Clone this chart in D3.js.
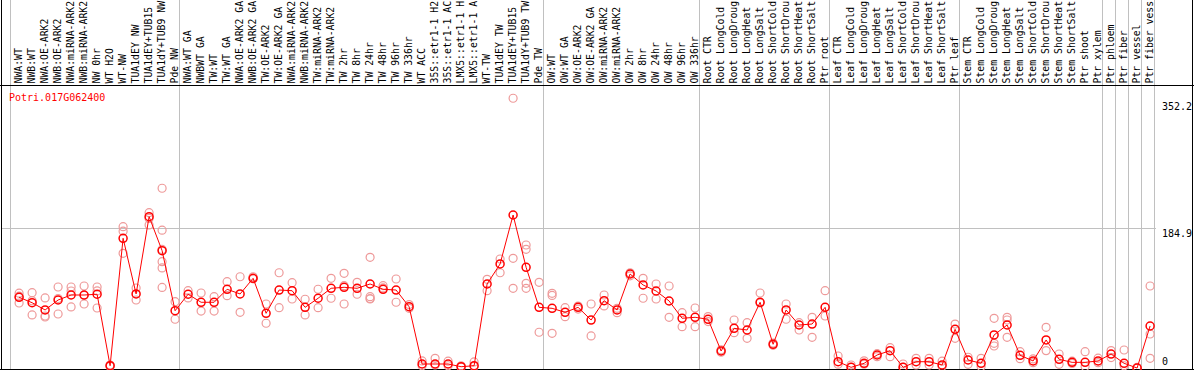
<!DOCTYPE html>
<html>
<head>
<meta charset="utf-8">
<script src="https://cdn.jsdelivr.net/npm/d3@7"></script>
<style>
  body { margin: 0; background: #fff; }
  svg { display: block; }
  text { font-family: "DejaVu Sans Mono", monospace; font-size: 10px; }
</style>
</head>
<body>
<svg id="svg"></svg>
<script>
var svg = d3.select("#svg"),
    width = 1194,
    height = 370;
svg.attr("width", width).attr("height", height);

var gene = "Potri.017G062400";

// labels as they show in the header (long ones are cut at the top edge)
var labels = [
  "NWA:WT", "NWB:WT", "NWA:OE-ARK2", "NWB:OE-ARK2", "NWA:miRNA-ARK2", "NWB:miRNA-ARK2", "NW 0hr", "WT H2O", "WT-NW",
  "TUA1dEY NW", "TUA1dEY+TUB15", "TUA1dY+TUB9 NW", "Pde NW",
  "NWA:WT GA", "NWBWT GA", "TW:WT", "TW:WT GA", "NWA:OE-ARK2 GA", "NWB:OE-ARK2 GA", "TW:OE-ARK2", "TW:OE-ARK2 GA",
  "NWA:miRNA-ARK2", "NWB:miRNA-ARK2", "TW:miRNA-ARK2", "TW:miRNA-ARK2", "TW 2hr", "TW 8hr", "TW 24hr", "TW 48hr",
  "TW 96hr", "TW 336hr", "WT ACC", "35S::etr1-1 H2", "35S::etr1-1 AC", "LMX5::etr1-1 H", "LMX5::etr1-1 A",
  "WT-TW", "TUA1dEY TW", "TUA1dEY+TUB15", "TUA1dY+TUB9 TW", "Pde TW",
  "OW:WT", "OW:WT GA", "OW:OE-ARK2", "OW:OE-ARK2 GA", "OW:miRNA-ARK2", "OW:miRNA-ARK2", "OW 2hr", "OW 8hr",
  "OW 24hr", "OW 48hr", "OW 96hr", "OW 336hr",
  "Root CTR", "Root LongCold", "Root LongDroug", "Root LongHeat", "Root LongSalt", "Root ShortCold",
  "Root ShortDrou", "Root ShortHeat", "Root ShortSalt", "Ptr root",
  "Leaf CTR", "Leaf LongCold", "Leaf LongDroug", "Leaf LongHeat", "Leaf LongSalt", "Leaf ShortCold",
  "Leaf ShortDrou", "Leaf ShortHeat", "Leaf ShortSalt", "Ptr leaf",
  "Stem CTR", "Stem LongCold", "Stem LongDroug", "Stem LongHeat", "Stem LongSalt", "Stem ShortCold",
  "Stem ShortDrou", "Stem ShortHeat", "Stem ShortSalt", "Ptr shoot", "Ptr xylem",
  "Ptr phloem", "Ptr fiber", "Ptr vessel", "Ptr fiber vess"
];

// column index where each group starts (plus the end)
var groupBreaks = [0, 13, 41, 53, 63, 73, 84, 85, 86, 87, 88];

var means = [
  93.6, 86.4, 76.8, 90, 96.6, 96.6, 97.6, 3, 171.7, 98, 200.3, 155.3, 75.8,
  97.6, 87, 87, 104.2, 98, 118.7, 72.4, 103.2, 102.3, 80.3, 92.3, 105.5, 106.8, 105.5, 111.2, 104.2,
  103.2, 81.1, 5.3, 5.3, 5.3, 1.7, 3, 111.2, 137.7, 202.5, 133.3, 80.3,
  79, 73.7, 80.3, 63.5, 89.1, 76.8, 124.4, 109.9, 101.9, 88.7, 65.8, 67.1,
  64.5, 22.5, 52.5, 50.3, 87, 31.4, 76.8, 56.9, 58.2, 80.3,
  8.3, 0.9, 6.2, 17.2, 22.9, 0.9, 8.3, 8.3, 4, 51.2,
  10.6, 6.2, 43.7, 56.9, 16.8, 9.3, 37.1, 11.5, 7.5, 7.5, 9.3,
  18.5, 6.2, 0, 55.6
];

var reps = [
  [99, 86, 95], [99.7, 70.2, 89], [92.7, 68.8, 67.5], [107.2, 71.5, 92], [107.2, 101.9, 80.8],
  [108.5, 84.7, 96], [107.2, 79.4, 102], [2, 4, 3], [187, 181.1, 151.8], [105.9, 90],
  [205.6, 189.3, 198], [237.9, 182.4, 140.7, 132.4, 106.6, 157], [87.8, 64.5],
  [102.3, 92.7], [99.3, 75.4], [94.4, 75.4], [114.2, 95.7], [120.8, 73.7], [120.8, 118],
  [84.7, 59.2], [126.1, 79.8], [112.9, 91.3], [91, 70.2], [104.2, 79.8], [118.7, 92.3],
  [125.3, 84.7, 109], [113.4, 97.6], [146.5, 94.4, 91.3, 92], [108.9, 106], [117.8, 87],
  [84, 79], [9.3, 3], [12.8, 4], [9, 3], [3, 1], [8, 2], [117.4, 102.3], [144.3, 126.1],
  [357, 145.2, 105.5], [162.8, 157.1, 112.1, 105.5], [113.4, 47.3],
  [98.9, 96, 45.9], [79.8, 67.9], [82, 78], [84.7, 42.4], [96.6, 82.1], [73.2, 79],
  [126, 122], [118.7, 92.3], [111.2, 91.3], [108.5, 67.1], [73.2, 54.7], [79.4, 54.7],
  [68, 61.5], [24, 21], [63.5, 46.7], [60, 39.3], [99.3, 86], [33, 30], [84.7, 64.5],
  [60, 50.3], [67.1, 40.6], [102.3, 68.8],
  [15.9, 5], [4, 1], [9.5, 5], [19, 15], [26.9, 15], [5.3, 1], [12.8, 4], [12.8, 4], [9, 2],
  [58.2, 39.3],
  [14.2, 4.9], [12.8, 2], [65.8, 32.7, 29.1], [67.1, 63.5, 40.6], [21.6, 12.3], [12, 7],
  [53.9, 23], [18.5, 4.9], [9, 6], [21.6, 2],
  [13, 7], [23, 13.8], [23.8, 3], [1, 0], [108.5, 45, 12.8]
];

var yTicks = [0, 184.9, 352.2];

var x = d3.scaleBand()
    .domain(d3.range(labels.length))
    .range([10.5, 1154.5]);

var y = d3.scaleLinear()
    .domain([0, 352.2])
    .range([368, 101.9]);

function px(i) { return x(i) + 8.6; }
function edge(d) { return Math.floor(d < labels.length ? x(d) : x(d - 1) + x.step()) + 0.5; }

// frame
svg.append("rect")
    .attr("x", 1.5).attr("y", -1)
    .attr("width", width - 3).attr("height", 370.5)
    .attr("fill", "none").attr("stroke", "#000");

// group separators
svg.append("g").selectAll("line")
    .data(groupBreaks)
  .enter().append("line")
    .attr("x1", edge)
    .attr("x2", edge)
    .attr("y1", 0).attr("y2", 369)
    .attr("stroke", "#c0c0c0");

// middle horizontal grid
svg.append("line")
    .attr("x1", 2).attr("x2", 1156)
    .attr("y1", Math.round(y(184.9)) + 0.5).attr("y2", Math.round(y(184.9)) + 0.5)
    .attr("stroke", "#c0c0c0");

// header and bottom lines
svg.append("line")
    .attr("x1", 0).attr("x2", width)
    .attr("y1", 85.5).attr("y2", 85.5)
    .attr("stroke", "#000");
svg.append("line")
    .attr("x1", 0).attr("x2", width)
    .attr("y1", 369.5).attr("y2", 369.5)
    .attr("stroke", "#000");

// rotated column labels
svg.append("g").selectAll("text")
    .data(labels)
  .enter().append("text")
    .attr("transform", function(d, i) { return "translate(" + (x(i) + 11.5) + ",83.5) rotate(-90)"; })
    .attr("fill", "#000")
    .style("font-size", "9.8px")
    .text(function(d) { return d; });

// y tick labels
svg.append("g").selectAll("text")
    .data(yTicks)
  .enter().append("text")
    .attr("x", 1162)
    .attr("y", function(d) { return y(d) + (d === 0 ? -3 : 8.5); })
    .attr("fill", "#000")
    .text(function(d) { return d; });

// gene title
svg.append("text")
    .attr("x", 9).attr("y", 100.5)
    .attr("fill", "#ff0000")
    .text(gene);

// replicate points
var repPts = [];
reps.forEach(function(r, i) { r.forEach(function(v) { repPts.push({i: i, v: v}); }); });

svg.append("g").selectAll("circle")
    .data(repPts)
  .enter().append("circle")
    .attr("cx", function(d) { return px(d.i); })
    .attr("cy", function(d) { return y(d.v); })
    .attr("r", 4)
    .attr("fill", "none")
    .attr("stroke", "#ee9a9a")
    .attr("stroke-width", 1.2);

// mean line
var line = d3.line()
    .x(function(d, i) { return px(i); })
    .y(function(d) { return y(d); });

svg.append("path")
    .datum(means)
    .attr("d", line)
    .attr("fill", "none")
    .attr("stroke", "#ff0000")
    .attr("stroke-width", 1);

svg.append("g").selectAll("circle")
    .data(means)
  .enter().append("circle")
    .attr("cx", function(d, i) { return px(i); })
    .attr("cy", function(d) { return y(d); })
    .attr("r", 4)
    .attr("fill", "none")
    .attr("stroke", "#ff0000")
    .attr("stroke-width", 1.5);
</script>
</body>
</html>
